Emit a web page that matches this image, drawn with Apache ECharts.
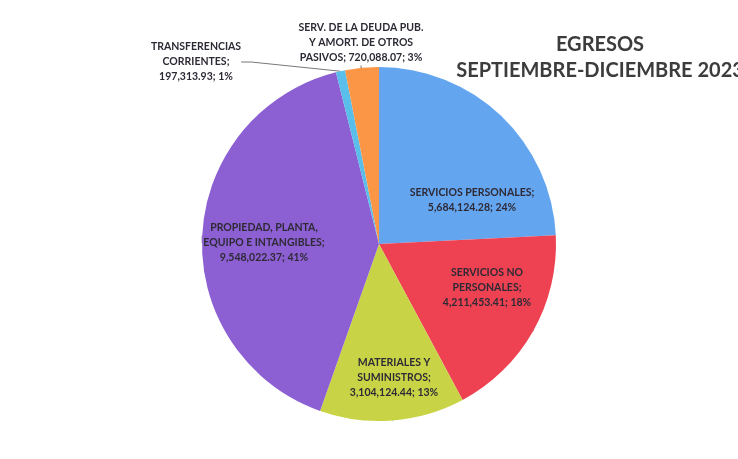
<!DOCTYPE html>
<html>
<head>
<meta charset="utf-8">
<title>Egresos septiembre-diciembre 2023</title>
<script src="https://cdn.jsdelivr.net/npm/echarts@6/dist/echarts.min.js"></script>
<style>
    html, body { margin: 0; padding: 0; background: #fff; }
    #chart { width: 738px; height: 459px; }
</style>
</head>
<body>
<div id="chart"></div>
<script>
// datos
var categories = [
    'SERVICIOS PERSONALES',
    'SERVICIOS NO PERSONALES',
    'MATERIALES Y SUMINISTROS',
    'PROPIEDAD, PLANTA, EQUIPO E INTANGIBLES',
    'TRANSFERENCIAS CORRIENTES',
    'SERV. DE LA DEUDA PUB. Y AMORT. DE OTROS PASIVOS'
];
var values = [5684124.28, 4211453.41, 3104124.44, 9548022.37, 197313.93, 720088.07];
// como se parte el texto de cada etiqueta
var labelNames = [
    'SERVICIOS PERSONALES;\n',
    'SERVICIOS NO\nPERSONALES;\n',
    'MATERIALES Y\nSUMINISTROS;\n',
    'PROPIEDAD, PLANTA,\nEQUIPO E INTANGIBLES;\n',
    'TRANSFERENCIAS\nCORRIENTES;\n',
    'SERV. DE LA DEUDA PUB.\nY AMORT. DE OTROS\nPASIVOS; '
];
var colors = ['#64a5f0', '#ee4252', '#c8d446', '#8c5fd2', '#5abeeb', '#fa9646'];

var labelPos = [[472, 200], [487, 288], [394, 378], [264, 243], [196, 62], [361, 43]];

function fmt(v) {
    return v.toLocaleString('en-US', {minimumFractionDigits: 2, maximumFractionDigits: 2});
}

var chart = echarts.init(document.getElementById('chart'));
var data = [];
for (var i = 0; i < categories.length; i++) {
    data.push({value: values[i], name: categories[i]});
}

var option = {
    color: colors,
    animation: false,
    title: {
        text: 'EGRESOS\nSEPTIEMBRE-DICIEMBRE 2023',
        left: 595,
        top: 27,
        textAlign: 'center',
        textStyle: {
            fontFamily: 'Lato',
            fontWeight: 'bold',
            fontSize: 20,
            lineHeight: 26,
            color: '#3c3c3c'
        }
    },
    series: [
        {
            type: 'pie',
            center: [379, 244],
            radius: 177,
            startAngle: 90,
            clockwise: true,
            data: data,
            itemStyle: { borderWidth: 0 },
            label: {
                show: true,
                position: 'outside',
                fontFamily: 'Lato',
                fontWeight: 'bold',
                fontSize: 10.5,
                lineHeight: 15,
                color: '#2e2a35',
                align: 'center',
                formatter: function (p) {
                    return labelNames[p.dataIndex] + fmt(p.value) + '; ' + Math.round(p.percent) + '%';
                }
            },
            labelLine: {
                show: true,
                length: 10,
                length2: 10,
                smooth: false,
                lineStyle: { color: '#777', width: 1 }
            },
            labelLayout: function (params) {
                var pos = labelPos[params.dataIndex];
                return {
                    x: pos[0],
                    y: pos[1],
                    align: 'center',
                    verticalAlign: 'middle'
                };
            }
        }
    ]
};
chart.setOption(option);
</script>
</body>
</html>
